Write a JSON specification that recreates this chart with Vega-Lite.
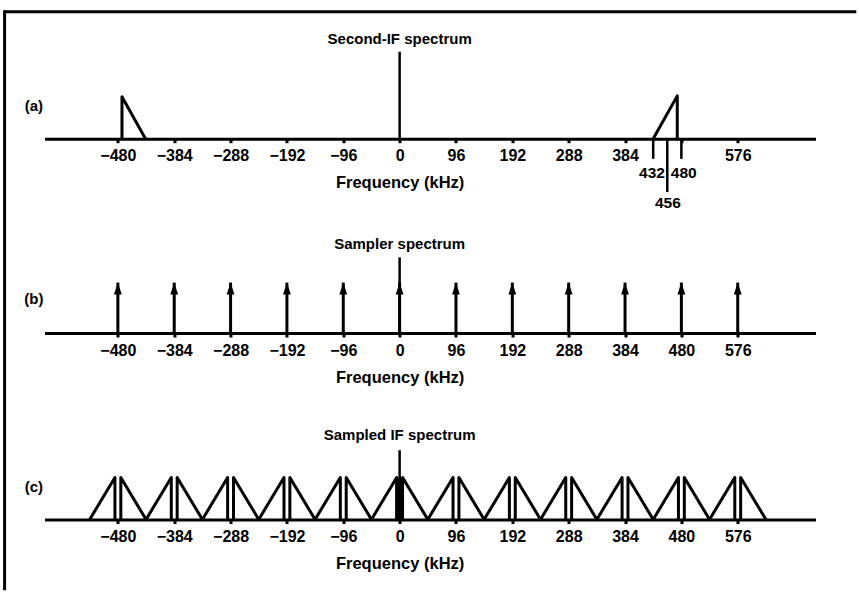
{
  "$schema": "https://vega.github.io/schema/vega-lite/v6.json",
  "background": "white",
  "padding": {"left": 2.5, "top": 8.5, "right": 0, "bottom": 0},
  "bounds": "flush",
  "spacing": 95,
  "config": {
    "view": {"stroke": null},
    "axis": {
      "domainColor": "black", "domainWidth": 3,
      "tickColor": "black", "tickWidth": 3, "tickSize": 4,
      "grid": false,
      "labelFont": "Liberation Sans, Arial, sans-serif",
      "labelFontWeight": "bold", "labelFontSize": 16, "labelColor": "black", "labelPadding": 5,
      "labelFlush": false, "labelOverlap": false,
      "titleFont": "Liberation Sans, Arial, sans-serif",
      "titleFontWeight": "bold", "titleFontSize": 16.5, "titleColor": "black", "titlePadding": 11
    }
  },
  "datasets": {
    "frame": [
      {"f": -673, "f2": 778, "a": 3.024, "a2": 3.024},
      {"f": -673, "f2": -673, "a": 3.06, "a2": -10.75}
    ],
    "spikeA": [{"f": 0, "a": 0, "a2": 2.07}],
    "triA": [
      {"g": "L", "f": -473, "a": 0, "o": 0},
      {"g": "L", "f": -473, "a": 1, "o": 1},
      {"g": "L", "f": -433, "a": 0, "o": 2},
      {"g": "R", "f": 432, "a": 0, "o": 0},
      {"g": "R", "f": 473, "a": 1.02, "o": 1},
      {"g": "R", "f": 473, "a": 0, "o": 2}
    ],
    "markLines": [
      {"f": 432, "a": 0, "a2": -0.48},
      {"f": 456, "a": 0, "a2": -1.27},
      {"f": 480, "a": 0, "a2": -0.48}
    ],
    "markLabels": [
      {"f": 430, "a": -0.81, "text": "432"},
      {"f": 484, "a": -0.81, "text": "480"},
      {"f": 457, "a": -1.52, "text": "456"}
    ],
    "textA": [
      {"f": 0, "a": 2.38, "text": "Second-IF spectrum"},
      {"f": -623, "a": 0.77, "text": "(a)"}
    ],
    "arrows": [
      {"f": -480, "a": 0, "a2": 1.2},
      {"f": -384, "a": 0, "a2": 1.2},
      {"f": -288, "a": 0, "a2": 1.2},
      {"f": -192, "a": 0, "a2": 1.2},
      {"f": -96, "a": 0, "a2": 1.2},
      {"f": 0, "a": 0, "a2": 1.2},
      {"f": 96, "a": 0, "a2": 1.2},
      {"f": 192, "a": 0, "a2": 1.2},
      {"f": 288, "a": 0, "a2": 1.2},
      {"f": 384, "a": 0, "a2": 1.2},
      {"f": 480, "a": 0, "a2": 1.2},
      {"f": 576, "a": 0, "a2": 1.2}
    ],
    "spikeB": [{"f": 0, "a": 0, "a2": 1.8}],
    "textB": [
      {"f": 0, "a": 2.13, "text": "Sampler spectrum"},
      {"f": -623, "a": 0.8, "text": "(b)"}
    ],
    "triC": [
      {"t": 1, "f": -528, "a": 0, "o": 0}, {"t": 1, "f": -485, "a": 1, "o": 1}, {"t": 1, "f": -485, "a": 0, "o": 2},
      {"t": 2, "f": -475, "a": 0, "o": 0}, {"t": 2, "f": -475, "a": 1, "o": 1}, {"t": 2, "f": -432, "a": 0, "o": 2},
      {"t": 3, "f": -432, "a": 0, "o": 0}, {"t": 3, "f": -389, "a": 1, "o": 1}, {"t": 3, "f": -389, "a": 0, "o": 2},
      {"t": 4, "f": -379, "a": 0, "o": 0}, {"t": 4, "f": -379, "a": 1, "o": 1}, {"t": 4, "f": -336, "a": 0, "o": 2},
      {"t": 5, "f": -336, "a": 0, "o": 0}, {"t": 5, "f": -293, "a": 1, "o": 1}, {"t": 5, "f": -293, "a": 0, "o": 2},
      {"t": 6, "f": -283, "a": 0, "o": 0}, {"t": 6, "f": -283, "a": 1, "o": 1}, {"t": 6, "f": -240, "a": 0, "o": 2},
      {"t": 7, "f": -240, "a": 0, "o": 0}, {"t": 7, "f": -197, "a": 1, "o": 1}, {"t": 7, "f": -197, "a": 0, "o": 2},
      {"t": 8, "f": -187, "a": 0, "o": 0}, {"t": 8, "f": -187, "a": 1, "o": 1}, {"t": 8, "f": -144, "a": 0, "o": 2},
      {"t": 9, "f": -144, "a": 0, "o": 0}, {"t": 9, "f": -101, "a": 1, "o": 1}, {"t": 9, "f": -101, "a": 0, "o": 2},
      {"t": 10, "f": -91, "a": 0, "o": 0}, {"t": 10, "f": -91, "a": 1, "o": 1}, {"t": 10, "f": -48, "a": 0, "o": 2},
      {"t": 11, "f": -48, "a": 0, "o": 0}, {"t": 11, "f": -5, "a": 1, "o": 1}, {"t": 11, "f": -5, "a": 0, "o": 2},
      {"t": 12, "f": 5, "a": 0, "o": 0}, {"t": 12, "f": 5, "a": 1, "o": 1}, {"t": 12, "f": 48, "a": 0, "o": 2},
      {"t": 13, "f": 48, "a": 0, "o": 0}, {"t": 13, "f": 91, "a": 1, "o": 1}, {"t": 13, "f": 91, "a": 0, "o": 2},
      {"t": 14, "f": 101, "a": 0, "o": 0}, {"t": 14, "f": 101, "a": 1, "o": 1}, {"t": 14, "f": 144, "a": 0, "o": 2},
      {"t": 15, "f": 144, "a": 0, "o": 0}, {"t": 15, "f": 187, "a": 1, "o": 1}, {"t": 15, "f": 187, "a": 0, "o": 2},
      {"t": 16, "f": 197, "a": 0, "o": 0}, {"t": 16, "f": 197, "a": 1, "o": 1}, {"t": 16, "f": 240, "a": 0, "o": 2},
      {"t": 17, "f": 240, "a": 0, "o": 0}, {"t": 17, "f": 283, "a": 1, "o": 1}, {"t": 17, "f": 283, "a": 0, "o": 2},
      {"t": 18, "f": 293, "a": 0, "o": 0}, {"t": 18, "f": 293, "a": 1, "o": 1}, {"t": 18, "f": 336, "a": 0, "o": 2},
      {"t": 19, "f": 336, "a": 0, "o": 0}, {"t": 19, "f": 379, "a": 1, "o": 1}, {"t": 19, "f": 379, "a": 0, "o": 2},
      {"t": 20, "f": 389, "a": 0, "o": 0}, {"t": 20, "f": 389, "a": 1, "o": 1}, {"t": 20, "f": 432, "a": 0, "o": 2},
      {"t": 21, "f": 432, "a": 0, "o": 0}, {"t": 21, "f": 475, "a": 1, "o": 1}, {"t": 21, "f": 475, "a": 0, "o": 2},
      {"t": 22, "f": 485, "a": 0, "o": 0}, {"t": 22, "f": 485, "a": 1, "o": 1}, {"t": 22, "f": 528, "a": 0, "o": 2},
      {"t": 23, "f": 528, "a": 0, "o": 0}, {"t": 23, "f": 571, "a": 1, "o": 1}, {"t": 23, "f": 571, "a": 0, "o": 2},
      {"t": 24, "f": 581, "a": 0, "o": 0}, {"t": 24, "f": 581, "a": 1, "o": 1}, {"t": 24, "f": 624, "a": 0, "o": 2}
    ],
    "barC": [{"f": -7, "f2": 7, "a": 0, "a2": 1.0}],
    "spikeC": [{"f": 0, "a": 0, "a2": 1.65}],
    "textC": [
      {"f": 0, "a": 2.02, "text": "Sampled IF spectrum"},
      {"f": -623, "a": 0.77, "text": "(c)"}
    ]
  },
  "vconcat": [
    {
      "width": 771, "height": 109.2,
      "encoding": {
        "x": {"field": "f", "type": "quantitative",
          "scale": {"domain": [-605, 708.5], "nice": false, "zero": false},
          "axis": {"values": [-480, -384, -288, -192, -96, 0, 96, 192, 288, 384, 480, 576],
            "title": "Frequency (kHz)", "titleX": 355.1,
            "labelExpr": "datum.value == 480 ? '' : datum.label"}},
        "y": {"field": "a", "type": "quantitative",
          "scale": {"domain": [0, 2.6], "nice": false, "zero": false}, "axis": null}
      },
      "layer": [
        {"data": {"name": "frame"}, "mark": {"type": "rule", "color": "black", "strokeWidth": 3},
          "encoding": {"x2": {"field": "f2"}, "y2": {"field": "a2"}}},
        {"data": {"name": "spikeA"}, "mark": {"type": "rule", "color": "black", "strokeWidth": 2.5},
          "encoding": {"y2": {"field": "a2"}}},
        {"data": {"name": "markLines"}, "mark": {"type": "rule", "color": "black", "strokeWidth": 2.5},
          "encoding": {"y2": {"field": "a2"}}},
        {"data": {"name": "triA"}, "mark": {"type": "line", "color": "black", "strokeWidth": 3, "strokeJoin": "round"},
          "encoding": {"detail": {"field": "g"}, "order": {"field": "o", "type": "quantitative"}}},
        {"data": {"name": "markLabels"},
          "mark": {"type": "text", "font": "Liberation Sans, Arial, sans-serif", "fontWeight": "bold", "fontSize": 15.5, "color": "black", "baseline": "middle", "align": "center"},
          "encoding": {"text": {"field": "text"}}},
        {"data": {"name": "textA"},
          "mark": {"type": "text", "font": "Liberation Sans, Arial, sans-serif", "fontWeight": "bold", "fontSize": 15, "color": "black", "baseline": "middle", "align": "center"},
          "encoding": {"text": {"field": "text"}}}
      ]
    },
    {
      "width": 771, "height": 98.5,
      "encoding": {
        "x": {"field": "f", "type": "quantitative",
          "scale": {"domain": [-605, 708.5], "nice": false, "zero": false},
          "axis": {"values": [-480, -384, -288, -192, -96, 0, 96, 192, 288, 384, 480, 576],
            "title": "Frequency (kHz)", "titleX": 355.1}},
        "y": {"field": "a", "type": "quantitative",
          "scale": {"domain": [0, 2.345], "nice": false, "zero": false}, "axis": null}
      },
      "layer": [
        {"data": {"name": "spikeB"}, "mark": {"type": "rule", "color": "black", "strokeWidth": 2.5},
          "encoding": {"y2": {"field": "a2"}}},
        {"data": {"name": "arrows"}, "mark": {"type": "rule", "color": "black", "strokeWidth": 3},
          "encoding": {"y2": {"field": "a2"}}},
        {"data": {"name": "arrows"},
          "mark": {"type": "point", "shape": "M0,-1L0.65,1L-0.65,1Z", "size": 144, "filled": true, "color": "black", "opacity": 1, "yOffset": 6},
          "encoding": {"y": {"field": "a2", "type": "quantitative"}}},
        {"data": {"name": "textB"},
          "mark": {"type": "text", "font": "Liberation Sans, Arial, sans-serif", "fontWeight": "bold", "fontSize": 15, "color": "black", "baseline": "middle", "align": "center"},
          "encoding": {"text": {"field": "text"}}}
      ]
    },
    {
      "width": 771, "height": 91,
      "encoding": {
        "x": {"field": "f", "type": "quantitative",
          "scale": {"domain": [-605, 708.5], "nice": false, "zero": false},
          "axis": {"values": [-480, -384, -288, -192, -96, 0, 96, 192, 288, 384, 480, 576],
            "title": "Frequency (kHz)", "titleX": 355.1}},
        "y": {"field": "a", "type": "quantitative",
          "scale": {"domain": [0, 2.1667], "nice": false, "zero": false}, "axis": null}
      },
      "layer": [
        {"data": {"name": "barC"}, "mark": {"type": "rect", "color": "black"},
          "encoding": {"x2": {"field": "f2"}, "y2": {"field": "a2"}}},
        {"data": {"name": "spikeC"}, "mark": {"type": "rule", "color": "black", "strokeWidth": 2.5},
          "encoding": {"y2": {"field": "a2"}}},
        {"data": {"name": "triC"}, "mark": {"type": "line", "color": "black", "strokeWidth": 3, "strokeJoin": "round"},
          "encoding": {"detail": {"field": "t"}, "order": {"field": "o", "type": "quantitative"}}},
        {"data": {"name": "textC"},
          "mark": {"type": "text", "font": "Liberation Sans, Arial, sans-serif", "fontWeight": "bold", "fontSize": 15, "color": "black", "baseline": "middle", "align": "center"},
          "encoding": {"text": {"field": "text"}}}
      ]
    }
  ]
}
